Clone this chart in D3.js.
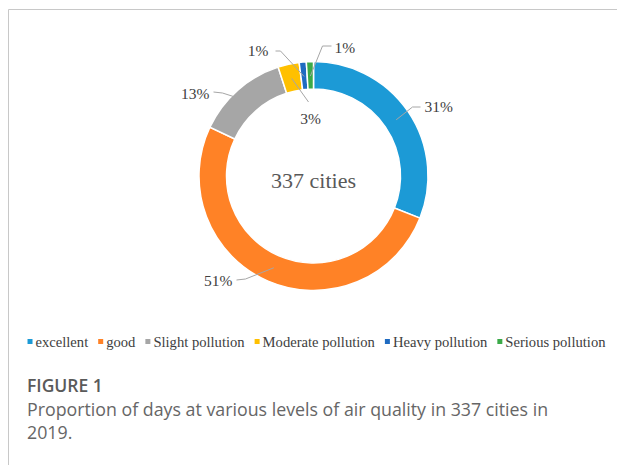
<!DOCTYPE html>
<html><head><meta charset="utf-8">
<script src="https://cdn.jsdelivr.net/npm/d3@7"></script>
<style>body{margin:0;background:#fff}svg{display:block}
.serif{font-family:"Liberation Serif","Times New Roman",Times,serif}
.cap{font-family:"Open Sans",sans-serif}
</style>
</head><body>
<script>
const categories = ["excellent","good","Slight pollution","Moderate pollution","Heavy pollution","Serious pollution"];
const values = [31, 51, 13, 3, 1, 1];
const labels = ["31%","51%","13%","3%","1%","1%"];
const colors = ["#1C9AD6","#FF8226","#A6A6A6","#FFC000","#1F6BC1","#3BAA48"];
const centerText = "337 cities";
const captionTitle = "FIGURE 1";
const captionLines = ["Proportion of days at various levels of air quality in 337 cities in","2019."];

// label layout (relative to pie centre): text anchor point, elbow points
const labelLayout = [
  {tx: 111, ty: -70, anchor: "start", elbow: [[99,-69],[107,-69]]},
  {tx: -81, ty: 104, anchor: "end", elbow: [[-68,103],[-77,104]]},
  {tx: -104, ty: -83, anchor: "end", elbow: [[-91,-83],[-100,-84]]},
  {tx: -3, ty: -58, anchor: "middle", elbow: [[-5,-74]]},
  {tx: -45, ty: -126, anchor: "end", elbow: [[-33,-125],[-38,-125]]},
  {tx: 21, ty: -129, anchor: "start", elbow: [[9,-130],[18,-130]]}
];

const W = 617, H = 465;
const svg = d3.select("body").append("svg").attr("width", W).attr("height", H);

// frame
svg.append("line").attr("x1",8.5).attr("x2",W).attr("y1",9.5).attr("y2",9.5).attr("stroke","#c8c8c8");
svg.append("line").attr("x1",8.5).attr("x2",8.5).attr("y1",9.5).attr("y2",H).attr("stroke","#c8c8c8");

const cx = 313.5, cy = 176, rOut = 114.5, rIn = 87;
const g = svg.append("g").attr("transform", `translate(${cx},${cy})`);
const pie = d3.pie().sort(null).value(d => d.v).startAngle(0).endAngle(2*Math.PI);
const data = pie(values.map((v,i) => ({v, i})));
const arc = d3.arc().innerRadius(rIn).outerRadius(rOut);
const mid = d3.arc().innerRadius(100).outerRadius(100);

g.selectAll("path.slice").data(data).join("path")
  .attr("class","slice")
  .attr("d", arc)
  .attr("fill", d => colors[d.data.i])
  .attr("stroke","#fff").attr("stroke-width",1.5);

// leader lines
data.forEach(d => {
  const L = labelLayout[d.data.i];
  const c = mid.centroid(d);
  const pts = [c, ...L.elbow];
  g.append("polyline")
    .attr("points", pts.map(p => p.join(",")).join(" "))
    .attr("fill","none").attr("stroke","#a6a6a6").attr("stroke-width",1);
  g.append("text").attr("class","serif")
    .attr("x", L.tx).attr("y", L.ty)
    .attr("text-anchor", L.anchor)
    .attr("dominant-baseline","central")
    .attr("font-size",15.5).attr("fill","#404040")
    .text(labels[d.data.i]);
});

g.append("text").attr("class","serif").attr("x",0).attr("y",4).attr("text-anchor","middle")
  .attr("dominant-baseline","central")
  .attr("font-size",22).attr("fill","#595959").text(centerText);

// legend
const leg = svg.append("g");
let x = 0;
categories.forEach((c,i) => {
  const it = leg.append("g").attr("transform", `translate(${x},0)`);
  it.append("rect").attr("x",0).attr("y",-3).attr("width",5).attr("height",5).attr("fill",colors[i]);
  const t = it.append("text").attr("class","serif").attr("x",8).attr("y",0).attr("dominant-baseline","central")
    .attr("font-size",14.6).attr("fill","#404040").text(c);
  x += 8 + t.node().getComputedTextLength() + 10;
});
const legW = x - 10;
leg.attr("transform", `translate(${24 + (585 - legW)/2},342)`);

// caption
svg.append("text").attr("class","cap").attr("x",27).attr("y",392)
  .attr("font-weight",600)
  .attr("font-size",17.5).attr("fill","#5a5a5a").text(captionTitle);
captionLines.forEach((l,i) => {
  svg.append("text").attr("class","cap").attr("x",27).attr("y",416 + i*23)
    .attr("font-size",17.8).attr("fill","#666").text(l);
});
</script>
</body></html>
